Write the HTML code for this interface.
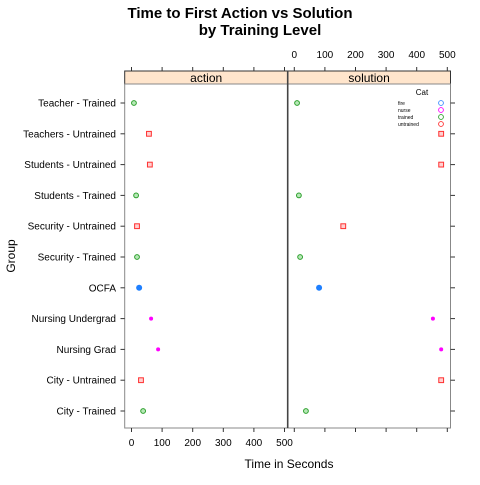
<!DOCTYPE html>
<html><head><meta charset="utf-8"><style>
body{margin:0;background:#fff}
svg text{font-family:"Liberation Sans",sans-serif}
</style></head><body>
<svg id="c" width="480" height="480" viewBox="0 0 480 480">
<text x="240" y="18" font-size="15" font-weight="bold" text-anchor="middle">Time to First Action vs Solution</text>
<text x="260" y="35" font-size="15" font-weight="bold" text-anchor="middle">by Training Level</text>
<text x="289" y="468" font-size="12" text-anchor="middle">Time in Seconds</text>
<text transform="translate(15,256) rotate(-90)" font-size="12" text-anchor="middle">Group</text>
<g id="g"></g>
</svg>
<script>
const groups=["Teacher - Trained","Teachers - Untrained","Students - Untrained","Students - Trained","Security - Untrained","Security - Trained","OCFA","Nursing Undergrad","Nursing Grad","City - Untrained","City - Trained"];
const cats=["trained","untrained","untrained","trained","untrained","trained","ocfa","nurse","nurse","untrained","trained"];
const actionVals=[8,57,60,15,18,18,25,64,87,31,38];
const solutionVals=[9,480,480,15,160,19,81,453,480,480,38];
const ticks=[0,100,200,300,400,500];
const panels=["action","solution"];
const legendLabels=["fire","nurse","trained","untrained"];
const legendColors=["#3b8cff","#ff00ff","#2ca02c","#ff3030"];

const NS="http://www.w3.org/2000/svg",G=document.getElementById('g');
function el(t,a,txt){const e=document.createElementNS(NS,t);for(const k in a)e.setAttribute(k,a[k]);if(txt!=null)e.textContent=txt;G.appendChild(e);return e;}
const pTop=84,pBot=428,px=[[124.7,287.7],[287.7,450.5]];
const x0=[131.5,294.3],kx=0.306;
function sx(p,v){return x0[p]+v*kx;}
function sy(i){return 103+i*30.8;}
panels.forEach((p,j)=>{
 let r=el('rect',{x:px[j][0],y:71,width:px[j][1]-px[j][0],height:13,fill:'#ffe5cc',stroke:'#333','stroke-width':1});
 
 
 let t=el('text',{x:(px[j][0]+px[j][1])/2,y:82,'font-size':12,'text-anchor':'middle'},p);
 
 
 let b=el('rect',{x:px[j][0],y:pTop,width:px[j][1]-px[j][0],height:pBot-pTop,fill:'none',stroke:'#888','stroke-width':1});
 
 
});
let d=el('line',{x1:287.7,x2:287.7,y1:71,y2:pBot,stroke:'#444','stroke-width':1.6});


ticks.forEach(v=>{
 let a=sx(0,v);
 let l=el('line',{x1:a,x2:a,y1:pBot,y2:pBot+4,stroke:'#333'});
 
 
 let t=el('text',{x:a,y:446,'font-size':10,'text-anchor':'middle'},v);
 
 
 let l2=el('line',{x1:a,x2:a,y1:67,y2:71,stroke:'#333'});
 
 
 let b=sx(1,v);
 let l3=el('line',{x1:b,x2:b,y1:67,y2:71,stroke:'#333'});
 
 
 let t2=el('text',{x:b,y:58,'font-size':10,'text-anchor':'middle'},v);
 
 
 let l4=el('line',{x1:b,x2:b,y1:pBot,y2:pBot+4,stroke:'#333'});
 
 
});
groups.forEach((g,i)=>{
 let y=sy(i);
 let l=el('line',{x1:120.5,x2:124.7,y1:y,y2:y,stroke:'#333'});
 
 
 let l2=el('line',{x1:450.5,x2:455,y1:y,y2:y,stroke:'#333'});
 
 
 let t=el('text',{x:116,y:y+3.5,'font-size':10,'text-anchor':'end'},g);
 
 
});
function mark(p,v,i,c){
 const x=sx(p,v),y=sy(i);let m;
 if(c==='trained')m=el('circle',{cx:x,cy:y,r:2.4,fill:'#b7e8b7',stroke:'#2ca02c','stroke-width':1});
 else if(c==='untrained')m=el('rect',{x:x-2.4,y:y-2.4,width:4.8,height:4.8,fill:'#ffd0d0',stroke:'#ff3030','stroke-width':1});
 else if(c==='ocfa')m=el('circle',{cx:x,cy:y,r:3,fill:'#1e7fff'});
 else m=el('circle',{cx:x,cy:y,r:2,fill:'#ff00ff'});
 
 
}
actionVals.forEach((v,i)=>mark(0,v,i,cats[i]));
solutionVals.forEach((v,i)=>mark(1,v,i,cats[i]));
let lt=el('text',{x:422,y:95,'font-size':8,'text-anchor':'middle'},'Cat');


legendLabels.forEach((s,i)=>{
 const y=103+i*7;
 let t=el('text',{x:398,y:y+1.8,'font-size':5},s);
 
 
 let c=el('circle',{cx:441,cy:y,r:2.4,fill:'none',stroke:legendColors[i],'stroke-width':0.9});
 
 
});
</script>
</body></html>
